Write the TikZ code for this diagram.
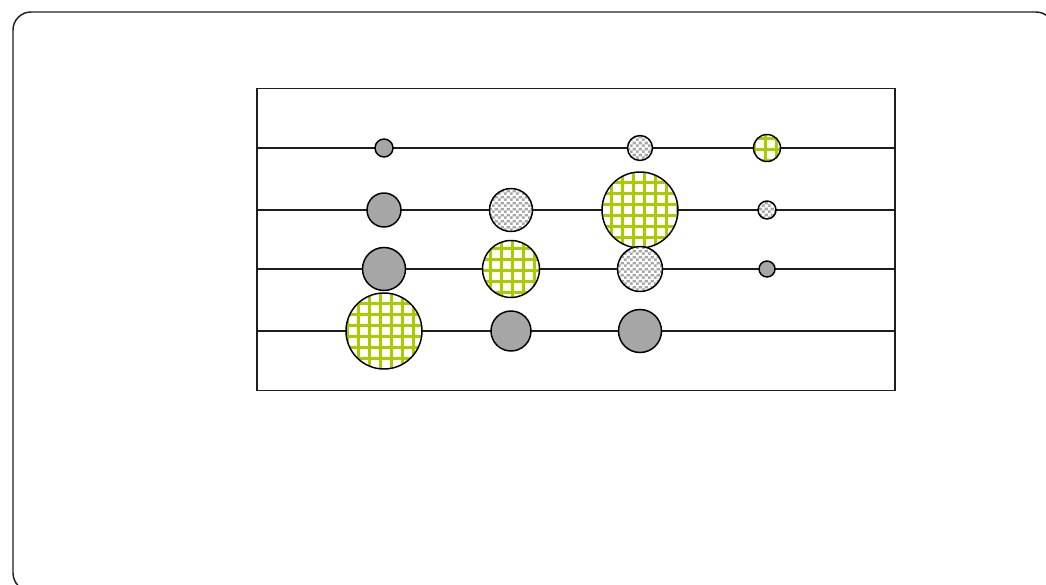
\documentclass[tikz,border=0pt]{standalone}
\usetikzlibrary{patterns.meta}
\definecolor{chkgray}{RGB}{168,168,168}
\definecolor{dotgray}{RGB}{166,166,166}
\definecolor{grn}{RGB}{168,204,0}
\definecolor{edge}{RGB}{30,30,30}
\pgfdeclarepattern{name=chk, type=colored,
  bottom left={\pgfpointorigin}, top right={\pgfpoint{4.5pt}{4.5pt}},
  tile size={\pgfpoint{4.5pt}{4.5pt}},
  code={\pgfsetfillcolor{chkgray}%
    \pgfpathrectangle{\pgfpointorigin}{\pgfpoint{2.25pt}{2.25pt}}%
    \pgfpathrectangle{\pgfpoint{2.25pt}{2.25pt}}{\pgfpoint{2.25pt}{2.25pt}}%
    \pgfusepath{fill}}}
\tikzset{
  frame/.style={draw=edge, line width=1.1pt},
  rowline/.style={draw=edge, line width=1.2pt},
  circ/.style={draw=black, line width=1.1pt},
  gridline/.style={draw=grn, line width=2.3pt},
}
\newcommand{\graydot}[3]{\fill[dotgray] (#1,#2) circle (#3); \draw[circ] (#1,#2) circle (#3);}
\newcommand{\chkdot}[3]{\fill[white] (#1,#2) circle (#3); \fill[pattern=chk] (#1,#2) circle (#3); \draw[circ] (#1,#2) circle (#3);}
\newcommand{\grndot}[3]{%
  \begin{scope}
    \clip (#1,#2) circle (#3);
    \fill[white] (#1,#2) circle (#3);
    \foreach \k in {0,...,95} {
      \draw[gridline] ({6.5+11*\k},#2-#3-3) -- ++(0,2*#3+6);
      \draw[gridline] (#1-#3-3,{6.5+11*\k}) -- ++(2*#3+6,0);
    }
  \end{scope}
  \draw[circ] (#1,#2) circle (#3);}
\begin{document}
\begin{tikzpicture}[x=0.75pt,y=-0.75pt]
\useasboundingbox (0,0) rectangle (1046,585);
% outer frame
\draw[frame, rounded corners=13.5pt] (13,12) rectangle (1054,591);
% inner box
\draw[frame] (257,88.5) rectangle (895,390.5);
% row lines
\foreach \r/\y in {1/148,2/210,3/269,4/331} {
  \coordinate (L\r) at (257,\y);
  \coordinate (R\r) at (895,\y);
  \draw[rowline] (L\r) -- (R\r);
}
% row 1
\graydot{384}{148}{9}
\chkdot{640}{148}{12.5}
\grndot{767}{148}{13.5}
% row 2
\graydot{384}{210}{17}
\chkdot{511}{210}{21.5}
\grndot{640}{210}{38}
\chkdot{767}{210}{9}
% row 3
\graydot{384}{269}{21.5}
\grndot{511}{269}{28.5}
\chkdot{640}{269}{22.5}
\graydot{767}{269}{8}
% row 4
\grndot{384}{331}{38}
\graydot{511}{331}{20}
\graydot{640}{331}{21.5}
\end{tikzpicture}
\end{document}
